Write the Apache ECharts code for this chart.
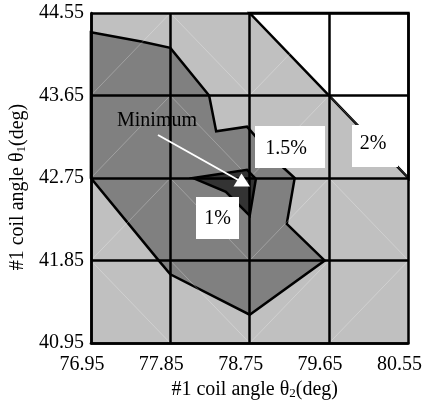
<!DOCTYPE html>
<html><head><meta charset="utf-8">
<script src="https://cdn.jsdelivr.net/npm/echarts@6/dist/echarts.min.js"></script>
<style>html,body{margin:0;padding:0;background:#fff}#c{width:425px;height:405px}</style>
</head><body><div id="c"></div>
<script>
// Axis ticks
const xTicks = [76.95, 77.85, 78.75, 79.65, 80.55];
const yTicks = [40.95, 41.85, 42.75, 43.65, 44.55];
// Contour regions (theta2, theta1)
const region2pct = [[78.75,44.55],[80.55,44.55],[80.55,42.75],[79.65,43.65]];
const region1_5pct = [[76.95,44.34],[77.52,44.24],[77.85,44.17],[78.29,43.65],[78.37,43.26],[78.72,43.31],[79.09,42.90],[79.26,42.75],[79.17,42.25],[79.60,41.85],[78.75,41.26],[77.85,41.70],[77.72,41.85],[76.95,42.75]];
const region1pct = [[78.11,42.75],[78.72,42.84],[78.82,42.74],[78.75,42.34],[78.48,42.60]];
// Cell diagonal orientation, rows bottom->top, columns left->right
const cellDiag = [
  ['\\','\\','/','/'],
  ['/','\\','/','\\'],
  ['/','\\','/','\\'],
  ['/','\\','/','\\']
];
const labels = ['2%','1.5%','1%','Minimum'];

const X0 = xTicks[0], Y0 = yTicks[0];
const STEP = xTicks[1]-xTicks[0];
const FONT = "'Liberation Serif','Times New Roman',serif";
const chart = echarts.init(document.getElementById('c'));

function polySeries(pts, fill, z){
  return {type:'custom', z:z, silent:true, data:[[0,0]],
    renderItem:(p,api)=>({type:'polygon',
      shape:{points:pts.map(q=>api.coord([q[0]-X0,q[1]-Y0]))},
      style:{fill:fill, stroke:'#000', lineWidth:2.5, lineJoin:'miter'}})};
}
const diagSeries = {type:'custom', z:3, silent:true, data:[[0,0]],
  renderItem:(p,api)=>{
    const ch=[];
    cellDiag.forEach((row,j)=>row.forEach((d,i)=>{
      const a = d==='/' ? [i*STEP,j*STEP] : [i*STEP,(j+1)*STEP];
      const b = d==='/' ? [(i+1)*STEP,(j+1)*STEP] : [(i+1)*STEP,j*STEP];
      const A=api.coord(a), B=api.coord(b);
      ch.push({type:'line',shape:{x1:A[0],y1:A[1],x2:B[0],y2:B[1]},style:{stroke:'rgba(255,255,255,0.25)',lineWidth:1}});
    }));
    return {type:'group',children:ch};
  }};

const axisCommon = {type:'value', min:0, max:4*STEP, interval:STEP, z:5,
  axisLine:{show:true,lineStyle:{color:'#000',width:2.5}},
  axisTick:{show:false},
  splitLine:{show:true,lineStyle:{color:'#000',width:2.5}}};

chart.setOption({
  animation:false,
  grid:{left:89, top:13, width:323, height:339, show:true, backgroundColor:'#c0c0c0', borderWidth:0},
  xAxis:Object.assign({}, axisCommon, {
    axisLabel:{fontSize:20, fontFamily:FONT, color:'#000', margin:12, padding:[0,18,0,0],
      formatter:v=>xTicks[Math.round(v/STEP)].toFixed(2)},
    name:'#1 coil angle θ{sub|2}(deg)', nameLocation:'middle', nameGap:31,
    nameTextStyle:{fontSize:20, fontFamily:FONT, color:'#000', padding:[0,0,0,10],
      rich:{sub:{fontSize:13, fontFamily:FONT, color:'#000', lineHeight:8, verticalAlign:'bottom'}}}
  }),
  yAxis:Object.assign({}, axisCommon, {
    axisLabel:{fontSize:20, fontFamily:FONT, color:'#000', margin:7,
      formatter:v=>yTicks[Math.round(v/STEP)].toFixed(2)},
    name:'#1 coil angle θ{sub|1}(deg)', nameLocation:'middle', nameGap:50,
    nameTextStyle:{fontSize:20, fontFamily:FONT, color:'#000', padding:[0,18,0,0],
      rich:{sub:{fontSize:13, fontFamily:FONT, color:'#000', lineHeight:8, verticalAlign:'bottom'}}}
  }),
  series:[
    polySeries(region2pct,'#ffffff',2),
    polySeries(region1_5pct,'#808080',2),
    diagSeries,
    polySeries(region1pct,'#333333',4)
  ],
  graphic:[
    {type:'text', z:4, left:117, top:111, style:{text:labels[3], font:'20px '+FONT, fill:'#000'}},
    {type:'rect', z:10, shape:{x:255,y:126,width:70,height:42}, style:{fill:'#fff'}},
    {type:'text', z:11, x:286, y:149, style:{text:labels[1], font:'20px '+FONT, fill:'#000', align:'center', verticalAlign:'middle'}},
    {type:'rect', z:10, shape:{x:352,y:125,width:46,height:42}, style:{fill:'#fff'}},
    {type:'text', z:11, x:373, y:144, style:{text:labels[0], font:'20px '+FONT, fill:'#000', align:'center', verticalAlign:'middle'}},
    {type:'rect', z:10, shape:{x:196,y:197,width:43,height:42}, style:{fill:'#fff'}},
    {type:'text', z:11, x:217.5, y:219, style:{text:labels[2], font:'20px '+FONT, fill:'#000', align:'center', verticalAlign:'middle'}},
    {type:'line', z:10, shape:{x1:158,y1:135,x2:240,y2:181}, style:{stroke:'#fff', lineWidth:2}},
    {type:'polygon', z:10, shape:{points:[[241.5,173.5],[233.5,186.5],[250,186.5]]}, style:{fill:'#fff'}}
  ]
});
</script></body></html>
